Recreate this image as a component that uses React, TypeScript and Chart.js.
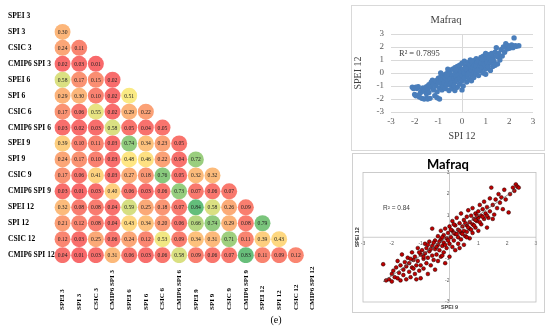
import React, { useEffect, useRef } from "react";
import { Chart, registerables } from "chart.js";
Chart.register(...registerables);

// ---------- correlation matrix data ----------
const indexLabels = [
  "SPEI 3", "SPI 3", "CSIC 3", "CMIP6 SPI 3",
  "SPEI 6", "SPI 6", "CSIC 6", "CMIP6 SPI 6",
  "SPEI 9", "SPI 9", "CSIC 9", "CMIP6 SPI 9",
  "SPEI 12", "SPI 12", "CSIC 12", "CMIP6 SPI 12",
];

const corrRows: number[][] = [
  [],
  [0.30],
  [0.24, 0.11],
  [0.02, 0.03, 0.01],
  [0.58, 0.17, 0.15, 0.02],
  [0.29, 0.30, 0.10, 0.02, 0.51],
  [0.17, 0.06, 0.55, 0.02, 0.29, 0.22],
  [0.03, 0.02, 0.03, 0.58, 0.05, 0.04, 0.05],
  [0.39, 0.10, 0.11, 0.03, 0.74, 0.34, 0.23, 0.05],
  [0.24, 0.17, 0.10, 0.03, 0.48, 0.46, 0.22, 0.04, 0.72],
  [0.17, 0.06, 0.41, 0.03, 0.27, 0.18, 0.76, 0.05, 0.32, 0.32],
  [0.03, 0.01, 0.03, 0.40, 0.06, 0.03, 0.06, 0.73, 0.07, 0.06, 0.07],
  [0.32, 0.08, 0.08, 0.04, 0.59, 0.25, 0.18, 0.07, 0.84, 0.58, 0.26, 0.09],
  [0.21, 0.12, 0.08, 0.04, 0.43, 0.34, 0.20, 0.06, 0.66, 0.74, 0.29, 0.08, 0.79],
  [0.12, 0.03, 0.25, 0.06, 0.24, 0.12, 0.53, 0.09, 0.34, 0.31, 0.71, 0.11, 0.39, 0.43],
  [0.04, 0.01, 0.03, 0.31, 0.06, 0.03, 0.06, 0.58, 0.09, 0.06, 0.07, 0.83, 0.11, 0.09, 0.12],
];

// ---------- scatter 1: SPI 12 (x) vs SPEI 12 (y) ----------
const r2Top = "R\u00b2 = 0.7895";
const spi12VsSpei12: [number, number][] = [
  [-2.1, -1.1], [-2.05, -1.2], [-1.95, -1.1], [-1.9, -1.2], [-1.85, -1.05],
  [-2.0, -1.65], [-1.95, -1.75], [-1.85, -1.7], [-1.8, -1.85], [-1.7, -1.95], [-1.6, -2.0], [-1.5, -1.95], [-1.45, -2.0], [-1.35, -1.95],
  [-1.75, -1.5], [-1.7, -1.3], [-1.65, -1.15], [-1.6, -1.4], [-1.55, -1.2], [-1.5, -1.05], [-1.5, -1.6], [-1.45, -1.3], [-1.4, -0.9], [-1.4, -1.5],
  [-1.3, -0.7], [-1.3, -1.1], [-1.25, -0.55], [-1.2, -0.85], [-1.2, -1.3], [-1.15, -1.75], [-1.1, -0.6], [-1.1, -1.0], [-1.05, -1.9], [-0.95, -2.0],
  [-1.0, -0.4], [-1.0, -0.75], [-0.95, -1.15], [-0.9, -0.3], [-0.9, -0.6], [-0.85, -0.9], [-0.85, -1.3], [-0.8, -0.2], [-0.8, -0.5], [-0.8, -1.05],
  [-0.75, -0.75], [-0.7, -0.1], [-0.7, -0.4], [-0.7, -1.2], [-0.65, -0.9], [-0.6, 0.05], [-0.6, -0.3], [-0.6, -0.6], [-0.55, -1.35], [-0.5, 0.2], [-0.5, -0.1], [-0.5, -0.5], [-0.5, -0.95],
  [-0.45, -0.75], [-0.4, 0.3], [-0.4, -0.2], [-0.4, -1.2], [-0.35, -0.45], [-0.3, 0.4], [-0.3, 0.0], [-0.3, -0.7], [-0.3, -1.35], [-0.25, -0.3], [-0.2, 0.5], [-0.2, 0.15], [-0.2, -0.55], [-0.2, -1.1],
  [-0.15, -0.15], [-0.1, 0.35], [-0.1, 0.6], [-0.1, -0.4], [-0.1, -0.85], [-0.05, 0.1], [0.0, 0.75], [0.0, -0.2], [0.0, -0.6], [0.0, -1.3], [0.05, 0.3], [0.05, -1.0],
  [0.1, 0.9], [0.1, 0.0], [0.1, -0.4], [0.15, 0.55], [0.2, 0.2], [0.2, -0.2], [0.2, -0.7], [0.25, 0.8], [0.3, 0.4], [0.3, 0.0], [0.3, -0.45], [0.35, 1.0], [0.35, 0.65],
  [0.4, 0.2], [0.4, -0.15], [0.4, -0.6], [0.45, 0.45], [0.5, 0.95], [0.5, 0.7], [0.5, 0.05], [0.5, -0.35], [0.55, 0.3], [0.6, 1.1], [0.6, 0.55], [0.6, -0.05],
  [0.65, 0.85], [0.7, 0.3], [0.7, -0.2], [0.7, 1.0], [0.75, 0.6], [0.8, 1.2], [0.8, 0.15], [0.8, 0.8], [0.85, 0.45], [0.9, 1.0], [0.9, 0.0], [0.9, 1.3], [0.95, 0.65],
  [1.0, 0.3], [1.0, 1.1], [1.0, -0.1], [1.05, 0.85], [1.1, 1.4], [1.1, 0.5], [1.15, 1.15], [1.2, 0.2], [1.2, 0.8], [1.25, 1.5], [1.3, 1.2], [1.3, 0.5], [1.35, 0.9],
  [1.4, 1.6], [1.4, 0.6], [1.45, 1.95], [1.5, 1.25], [1.5, 0.7], [1.55, 1.5], [1.6, 1.0], [1.65, 1.8], [1.7, 1.3], [1.75, 2.0], [1.8, 1.6], [1.85, 2.25], [1.9, 1.85], [1.95, 2.1],
  [2.0, 1.9], [2.05, 2.0], [2.1, 2.15], [2.15, 1.95], [2.2, 2.7], [2.25, 2.1], [2.3, 2.05], [2.4, 2.1], [1.0, 1.5], [0.4, 0.9], [-0.6, 0.3], [-0.9, 0.0],
  [-1.05, -1.45], [-0.65, -0.15], [-0.25, 0.25], [0.15, 0.35], [0.65, 0.2], [1.25, 1.0], [-0.35, -0.95], [0.25, -0.1], [0.85, 1.05], [1.45, 1.3],
];

// ---------- scatter 2: SPEI 9 (x) vs SPEI 12 (y) ----------
const r2Bottom = "R\u00b2 = 0.84";
const trendX = [-2.3, 2.35];
const trendY = [-2.06, 2.27];
const spei9VsSpei12: [number, number][] = [
  [-2.3, -1.25], [-2.2, -2.0], [-2.1, -1.95], [-2.0, -1.7], [-2.0, -2.05], [-1.95, -1.55], [-1.9, -1.85], [-1.85, -1.4], [-1.8, -1.9], [-1.8, -1.1],
  [-1.75, -1.65], [-1.7, -2.0], [-1.7, -1.3], [-1.65, -0.8], [-1.6, -1.75], [-1.6, -1.5], [-1.55, -1.15], [-1.5, -1.95], [-1.5, -1.35], [-1.45, -0.95],
  [-1.4, -1.6], [-1.4, -1.2], [-1.35, -1.85], [-1.3, -0.7], [-1.3, -1.4], [-1.25, -1.05], [-1.2, -1.7], [-1.2, -0.9], [-1.15, -1.3], [-1.1, -0.5],
  [-1.1, -1.1], [-1.05, -1.55], [-1.0, -0.8], [-1.0, -1.3], [-1.0, -1.9], [-0.95, -0.6], [-0.9, -1.0], [-0.9, -1.45], [-0.85, -0.3], [-0.85, -0.75],
  [-0.8, -1.2], [-0.8, -0.5], [-0.75, -1.7], [-0.75, -0.95], [-0.7, -0.2], [-0.7, -0.65], [-0.65, -1.3], [-0.6, -0.4], [-0.6, -0.85], [-0.6, 0.4],
  [-0.55, -1.05], [-0.5, -0.15], [-0.5, -0.55], [-0.5, -1.5], [-0.45, -0.8], [-0.4, 0.05], [-0.4, -0.35], [-0.4, -1.1], [-0.35, -0.6], [-0.3, -0.1],
  [-0.3, -0.9], [-0.3, 0.3], [-0.25, -0.4], [-0.2, 0.1], [-0.2, -0.25], [-0.2, -0.7], [-0.15, -1.2], [-0.15, 0.4], [-0.1, -0.05], [-0.1, -0.5],
  [-0.05, 0.2], [0.0, -0.3], [0.0, 0.5], [0.0, -0.9], [0.05, 0.0], [0.1, 0.3], [0.1, -0.45], [0.1, 0.75], [0.15, -0.15], [0.2, 0.15],
  [0.2, 0.55], [0.2, -0.6], [0.25, 0.9], [0.3, 0.35], [0.3, 0.0], [0.3, -0.3], [0.35, 0.65], [0.4, 0.2], [0.4, 1.1], [0.4, -0.1],
  [0.45, 0.5], [0.5, 0.8], [0.5, 0.3], [0.5, -0.35], [0.55, 0.05], [0.6, 0.95], [0.6, 0.55], [0.6, 0.25], [0.65, 1.25], [0.7, 0.7],
  [0.7, 0.4], [0.7, -0.05], [0.75, 1.0], [0.8, 0.6], [0.8, 1.35], [0.8, 0.2], [0.85, 0.85], [0.9, 1.1], [0.9, 0.45], [0.95, 0.75],
  [1.0, 1.2], [1.0, 0.9], [1.0, 0.3], [1.05, 1.5], [1.1, 1.0], [1.1, 0.6], [1.15, 1.3], [1.2, 0.85], [1.2, 1.65], [1.25, 1.1],
  [1.3, 0.45], [1.3, 1.4], [1.35, 0.9], [1.4, 1.8], [1.4, 1.2], [1.45, 2.3], [1.5, 1.5], [1.5, 0.85], [1.55, 1.05], [1.6, 1.75],
  [1.65, 1.35], [1.7, 2.0], [1.75, 1.6], [1.8, 1.85], [1.85, 1.3], [1.9, 2.2], [1.95, 1.75], [2.05, 1.15], [2.1, 2.0], [2.2, 2.3],
  [2.25, 2.15], [2.3, 2.45], [2.35, 2.35], [2.4, 2.3], [-1.15, -1.95],
  [-0.9, -0.9], [-0.65, -0.55], [-0.45, -0.45], [-0.35, -0.2], [-0.25, 0.0], [-0.15, -0.35], [-0.05, -0.15], [0.05, 0.35], [0.15, 0.2], [0.25, 0.15],
  [0.35, 0.3], [0.45, 0.15], [0.55, 0.65], [0.65, 0.45], [0.75, 0.35], [0.85, 0.55], [0.95, 1.0], [1.05, 0.7], [1.15, 0.95], [-1.25, -1.45],
  [-1.35, -1.0], [-0.55, -0.25], [0.35, -0.5], [0.9, 0.8], [-1.05, -0.7], [-0.25, -0.85], [0.6, 0.0], [1.3, 1.0], [0.15, 0.6], [-0.75, -0.35],
];

// ---------- helpers ----------
const RED = [248, 105, 107];
const YEL = [255, 235, 132];
const GRN = [99, 190, 123];
function colorFor(v: number): string {
  const lo = 0.01, mid = 0.5, hi = 0.84;
  let a: number[], b: number[], t: number;
  if (v <= mid) { a = RED; b = YEL; t = (v - lo) / (mid - lo); }
  else { a = YEL; b = GRN; t = (v - mid) / (hi - mid); }
  t = Math.max(0, Math.min(1, t));
  const c = a.map((av, i) => Math.round(av + (b[i] - av) * t));
  return `rgb(${c[0]},${c[1]},${c[2]})`;
}

const SERIF = '"Liberation Serif", "Times New Roman", serif';
const SANS = '"Liberation Sans", Arial, sans-serif';

// ---------- matrix ----------
function MatrixChart() {
  const ref = useRef<HTMLCanvasElement>(null);
  useEffect(() => {
    const pts: { x: number; y: number; v: number }[] = [];
    corrRows.forEach((row, i) => row.forEach((v, j) => pts.push({ x: j, y: i, v })));
    const textPlugin = {
      id: "matrixText",
      afterDatasetsDraw(chart: any) {
        const { ctx } = chart;
        const xs = chart.scales.x, ys = chart.scales.y;
        ctx.save();
        ctx.fillStyle = "#222";
        ctx.textAlign = "center";
        ctx.textBaseline = "middle";
        ctx.font = `5.6px ${SERIF}`;
        pts.forEach((p) => ctx.fillText(p.v.toFixed(2), xs.getPixelForValue(p.x), ys.getPixelForValue(p.y) + 0.5));
        ctx.fillStyle = "#000";
        ctx.font = `bold 7.5px ${SERIF}`;
        ctx.textAlign = "left";
        indexLabels.forEach((l, i) => ctx.fillText(l, 8, ys.getPixelForValue(i)));
        ctx.font = `bold 7px ${SERIF}`;
        indexLabels.forEach((l, j) => {
          ctx.save();
          ctx.translate(xs.getPixelForValue(j), 310);
          ctx.rotate(-Math.PI / 2);
          ctx.textAlign = "left";
          ctx.textBaseline = "middle";
          ctx.fillText(l, 0, 0);
          ctx.restore();
        });
        ctx.font = `10px ${SERIF}`;
        ctx.textAlign = "center";
        ctx.fillText("(e)", 276, 320);
        ctx.restore();
      },
    };
    const chart = new Chart(ref.current as HTMLCanvasElement, {
      type: "scatter",
      data: {
        datasets: [{
          data: pts as any,
          pointRadius: 8,
          pointHoverRadius: 8,
          borderWidth: 0,
          backgroundColor: (c: any) => colorFor(c.raw ? c.raw.v : 0),
        }],
      },
      options: {
        responsive: false,
        animation: false,
        events: [],
        layout: { padding: { left: 54.2, right: 345 - 320.8, top: 4.6, bottom: 329 - 263.1 } },
        scales: {
          x: { type: "linear", display: false, min: -0.5, max: 15.5 },
          y: { type: "linear", display: false, min: -0.5, max: 15.5, reverse: true },
        },
        plugins: { legend: { display: false }, tooltip: { enabled: false } },
      },
      plugins: [textPlugin],
    });
    return () => chart.destroy();
  }, []);
  return <canvas ref={ref} width={345} height={329} style={{ position: "absolute", left: 0, top: 0, display: "block" }} />;
}

// ---------- top scatter ----------
function TopScatter() {
  const ref = useRef<HTMLCanvasElement>(null);
  useEffect(() => {
    const deco = {
      id: "topDeco",
      afterDraw(chart: any) {
        const { ctx, chartArea } = chart;
        const ys = chart.scales.y;
        ctx.save();
        ctx.fillStyle = "#404040";
        ctx.textAlign = "center";
        ctx.textBaseline = "middle";
        ctx.font = `10.5px ${SERIF}`;
        ctx.fillText("Mafraq", 94, 14);
        ctx.textAlign = "left";
        ctx.font = `8.5px ${SERIF}`;
        ctx.fillText(r2Top, chartArea.left + 8, ys.getPixelForValue(1.45));
        ctx.restore();
      },
    };
    const tickFont = { family: SERIF, size: 9 };
    const chart = new Chart(ref.current as HTMLCanvasElement, {
      type: "scatter",
      data: {
        datasets: [{
          data: spi12VsSpei12.map(([x, y]) => ({ x, y })),
          pointRadius: 2.7,
          pointHoverRadius: 2.7,
          borderWidth: 0,
          backgroundColor: "#4a7ebb",
        }],
      },
      options: {
        responsive: false,
        animation: false,
        events: [],
        layout: { padding: { top: 28, right: 11, left: 0, bottom: 0 } },
        scales: {
          x: {
            type: "linear", min: -3, max: 3,
            ticks: { stepSize: 1, autoSkip: false, maxRotation: 0, color: "#595959", font: tickFont, padding: 4 },
            grid: { color: (c: any) => (c.tick && c.tick.value === 0 ? "#d9d9d9" : "rgba(0,0,0,0)"), drawTicks: false },
            border: { display: false },
            title: { display: true, text: "SPI 12", color: "#404040", font: { family: SERIF, size: 10 }, padding: { top: 0, bottom: 8 } },
            afterFit: (s: any) => { s.height = 38; },
          },
          y: {
            type: "linear", min: -3, max: 3,
            ticks: { stepSize: 1, autoSkip: false, color: "#595959", font: tickFont, padding: 7 },
            grid: { color: "#d9d9d9", drawTicks: false },
            border: { display: false },
            title: { display: true, text: "SPEI 12", color: "#404040", font: { family: SERIF, size: 10 }, padding: { top: 0, bottom: 0 } },
            afterFit: (s: any) => { s.width = 39; },
          },
        },
        plugins: { legend: { display: false }, tooltip: { enabled: false } },
      },
      plugins: [deco],
    });
    return () => chart.destroy();
  }, []);
  return <canvas ref={ref} width={192} height={144} style={{ position: "absolute", left: 352, top: 6, display: "block" }} />;
}

// ---------- bottom scatter ----------
function BottomScatter() {
  const ref = useRef<HTMLCanvasElement>(null);
  useEffect(() => {
    const axesLines = {
      id: "axesLines",
      beforeDatasetsDraw(chart: any) {
        const { ctx, chartArea } = chart;
        const xs = chart.scales.x;
        const ys = chart.scales.y;
        ctx.save();
        ctx.strokeStyle = "#bfbfbf";
        ctx.lineWidth = 0.8;
        ctx.strokeRect(chartArea.left, chartArea.top, chartArea.right - chartArea.left, chartArea.bottom - chartArea.top);
        ctx.beginPath();
        const x0 = xs.getPixelForValue(0);
        const y0 = ys.getPixelForValue(0);
        ctx.moveTo(chartArea.left, y0);
        ctx.lineTo(chartArea.right, y0);
        ctx.moveTo(x0, chartArea.top);
        ctx.lineTo(x0, chartArea.bottom);
        ctx.stroke();
        ctx.restore();
      },
    };
    const deco = {
      id: "bottomDeco",
      afterDraw(chart: any) {
        const { ctx, chartArea } = chart;
        const xs = chart.scales.x;
        const ys = chart.scales.y;
        ctx.save();
        ctx.fillStyle = "#000";
        ctx.textAlign = "center";
        ctx.textBaseline = "middle";
        ctx.font = `bold 13px Lato, ${SANS}`;
        ctx.fillText("Mafraq", 95, 11);
        ctx.font = `bold 5.5px ${SANS}`;
        ctx.fillStyle = "#404040";
        ctx.fillText("SPEI 9", xs.getPixelForValue(0), chartArea.bottom + 5);
        ctx.save();
        ctx.translate(chartArea.left - 5.5, (chartArea.top + chartArea.bottom) / 2);
        ctx.rotate(-Math.PI / 2);
        ctx.fillText("SPEI 12", 0, 0);
        ctx.restore();
        ctx.textAlign = "left";
        ctx.font = `6.5px ${SANS}`;
        ctx.fillText(r2Bottom, chartArea.left + 20, ys.getPixelForValue(1.35));
        ctx.restore();
      },
    };
    const tickFont = { family: SANS, size: 5 };
    const chart = new Chart(ref.current as HTMLCanvasElement, {
      type: "scatter",
      data: {
        datasets: [
          {
            data: trendX.map((x, i) => ({ x, y: trendY[i] })),
            showLine: true,
            borderColor: "#595959",
            borderWidth: 0.7,
            pointRadius: 0,
            pointHoverRadius: 0,
          },
          {
            data: spei9VsSpei12.map(([x, y]) => ({ x, y })),
            pointRadius: 1.9,
            pointHoverRadius: 1.9,
            borderWidth: 0.5,
            borderColor: "#1a0000",
            backgroundColor: "#c00000",
          },
        ],
      },
      options: {
        responsive: false,
        animation: false,
        events: [],
        layout: { padding: { top: 18.5, right: 8, left: 10, bottom: 9 } },
        scales: {
          x: {
            type: "linear", min: -3, max: 3, position: { y: 0 } as any,
            ticks: { stepSize: 1, autoSkip: false, maxRotation: 0, color: "#595959", font: tickFont, padding: 3, callback: (v: any) => (v === 0 ? "" : String(v)) },
            grid: { color: "rgba(0,0,0,0)", drawTicks: false },
            border: { display: false },
          },
          y: {
            type: "linear", min: -3, max: 3, position: { x: 0 } as any,
            ticks: { stepSize: 1, autoSkip: false, color: "#595959", font: tickFont, padding: 3, callback: (v: any) => (v === 0 ? "" : String(v)) },
            grid: { color: "rgba(0,0,0,0)", drawTicks: false },
            border: { display: false },
          },
        },
        plugins: { legend: { display: false }, tooltip: { enabled: false } },
      },
      plugins: [axesLines, deco],
    });
    return () => chart.destroy();
  }, []);
  return <canvas ref={ref} width={191} height={157} style={{ position: "absolute", left: 353, top: 154, display: "block" }} />;
}

export default function App() {
  return (
    <div style={{ position: "absolute", left: 0, top: 0, width: 550, height: 329, background: "#fff", overflow: "hidden" }}>
      <MatrixChart />
      <div style={{ position: "absolute", left: 351, top: 5, width: 194, height: 146, border: "1px solid #d9d9d9", boxSizing: "border-box" }} />
      <TopScatter />
      <div style={{ position: "absolute", left: 352, top: 153, width: 193, height: 160, border: "1px solid #d0d0d0", boxSizing: "border-box" }} />
      <BottomScatter />
    </div>
  );
}
